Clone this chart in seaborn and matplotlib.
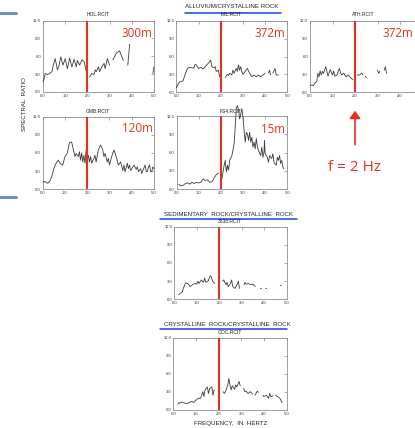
import numpy as np
import pandas as pd
import matplotlib
matplotlib.use("Agg")
import matplotlib.pyplot as plt
import seaborn as sns

nan = np.nan

# ---------------- data (frequency in Hz, spectral ratio) ----------------
hol_freq = [0.0, 0.05, 0.1, 0.2, 0.3, 0.4, 0.47, 0.55, 0.65, 0.72, 0.8, 0.9, 1.0, 1.1, 1.2, 1.3, 1.4,
            1.5, 1.55, 1.65, 1.75, 1.85, 1.95, 2.05, 2.1, 2.2, 2.3, 2.35, 2.4, 2.5, 2.55, 2.65, 2.75,
            2.8, 2.9, 3.0, 3.08, 3.15, 3.3, 3.45, 3.55, 3.62, 3.7, 3.82, 3.9, 4.4, 4.95, 5.0]
hol_ratio = [1.7, 2.2, 3.1, 2.9, 3.1, 3.4, 4.6, 5.6, 3.7, 4.4, 5.9, 4.5, 5.6, 3.9, 5.7, 4.2, 5.5,
             4.2, 5.3, 4.5, 5.4, 5.1, 3.4, nan, 2.5, 3.1, 2.9, 3.7, 3.4, 4.2, 3.4, 4.2, 4.8,
             3.9, 5.6, 4.5, nan, 5.4, 6.5, 6.9, 5.9, 5.3, nan, 4.5, 8.0, nan, 3.1, 4.2]

mil_freq = [0.0, 0.1, 0.2, 0.3, 0.4, 0.5, 0.6, 0.7, 0.8, 0.85, 0.9, 1.0, 1.1, 1.2, 1.3, 1.4, 1.5,
            1.55, 1.6, 1.7, 1.75, 1.8, 1.9, 1.95, 2.08, 2.2, 2.3, 2.35, 2.4, 2.5, 2.55, 2.6, 2.7,
            2.75, 2.8, 2.85, 2.9, 2.95, 3.0, 3.1, 3.2, 3.3, 3.4, 3.5, 3.6, 3.7, 3.8, 3.9, 4.0,
            4.08, 4.15, 4.2, 4.25, 4.3, 4.35, 4.45, 4.5, 4.6]
mil_ratio = [0.8, 1.5, 1.8, 1.9, 3.0, 4.0, 4.2, 4.1, 4.1, 4.7, 4.6, 4.0, 4.2, 3.9, 4.3, 4.7, 5.1,
             5.4, 4.3, 4.1, 4.3, 3.5, 3.7, 2.6, nan, 2.5, 3.0, 2.8, 3.2, 2.9, 3.7, 3.2, 4.0,
             3.5, 4.6, 3.7, 4.3, 3.5, 3.0, 3.5, 4.0, 3.2, 2.6, 2.9, 2.6, 2.9, 2.6, 2.9, 3.2,
             nan, 3.2, 3.7, 2.9, nan, 3.2, 4.0, 2.9, 2.9]

ath_freq = [0.0, 0.1, 0.15, 0.2, 0.3, 0.35, 0.4, 0.45, 0.5, 0.55, 0.6, 0.7, 0.8, 0.9, 1.0, 1.05,
            1.1, 1.2, 1.3, 1.4, 1.5, 1.6, 1.7, 1.8, 1.9, 2.0, 2.1, 2.2, 2.3, 2.35, 2.4, 2.45, 2.5,
            2.7, 3.0, 3.05, 3.1, 3.2, 3.3, 3.35, 3.4]
ath_ratio = [1.2, 1.2, 1.1, 1.5, 1.8, 3.2, 2.6, 3.6, 2.9, 3.5, 3.2, 4.3, 2.7, 3.8, 2.9, 3.6,
             2.7, 2.9, 4.0, 2.9, 3.2, 2.6, 2.9, 2.5, 2.1, nan, 2.9, 2.9, 3.2, 2.9, nan, 2.7, 2.5,
             nan, 3.7, 3.2, 3.5, nan, 3.7, 4.3, 3.2]

gmb_freq = [0.0, 0.1, 0.2, 0.3, 0.4, 0.5, 0.6, 0.7, 0.8, 0.9, 1.0, 1.1, 1.2, 1.3, 1.4, 1.45, 1.5,
            1.6, 1.65, 1.7, 1.75, 1.8, 1.85, 1.9, 1.95, 2.0, 2.05, 2.1, 2.15, 2.2, 2.3, 2.35, 2.4,
            2.5, 2.6, 2.7, 2.75, 2.8, 2.9, 2.95, 3.0, 3.1, 3.2, 3.3, 3.4, 3.5, 3.6, 3.65, 3.7,
            3.8, 3.85, 3.9, 3.95, 4.0, 4.1, 4.2, 4.25, 4.3, 4.4, 4.45, 4.5, 4.6, 4.65, 4.7, 4.75,
            4.8, 4.85, 4.9, 4.95, 5.0]
gmb_ratio = [1.2, 1.3, 1.0, 1.2, 2.0, 3.4, 4.3, 4.8, 4.2, 4.0, 5.4, 5.9, 7.7, 7.8, 6.2, 5.4, 5.9,
             5.4, 6.2, 4.8, 6.0, 4.5, 5.6, 4.3, 6.5, 4.8, 5.6, 4.5, 5.4, 4.3, 5.1, 5.6, 4.5,
             6.5, 7.3, 6.5, 5.4, 5.9, 4.5, 5.1, 4.0, 5.4, 6.5, 5.4, 4.0, 4.5, 3.1, 4.0, 2.9,
             4.3, 3.4, 4.0, 3.1, 3.4, 4.0, 3.3, 3.7, 2.9, 3.4, 2.6, 3.1, 4.0, 2.9, 2.9, 3.7,
             4.0, 2.9, 2.9, 3.7, 3.4]

fs4_freq = [0.1, 0.2, 0.3, 0.4, 0.5, 0.6, 0.7, 0.8, 0.9, 1.0, 1.1, 1.2, 1.3, 1.4, 1.5, 1.6, 1.7,
            1.8, 1.9, 2.0, 2.05, 2.1, 2.15, 2.2, 2.25, 2.3, 2.35, 2.4, 2.5, 2.6, 2.65, 2.7, 2.75,
            2.8, 2.85, 2.9, 2.95, 3.0, 3.05, 3.1, 3.15, 3.2, 3.25, 3.3, 3.35, 3.4, 3.45, 3.5,
            3.55, 3.6, 3.65, 3.7, 3.8, 3.85, 3.9, 3.95, 3.97, 4.0, 4.1, 4.15, 4.2, 4.3, 4.35,
            4.4, 4.5, 4.55, 4.6, 4.65, 4.7, 4.75, 4.8, 4.85]
fs4_ratio = [0.8, 0.5, 0.6, 0.9, 1.0, 0.8, 1.1, 0.9, 1.1, 1.0, 1.1, 1.7, 1.4, 1.5, 1.1, 1.2, 1.8,
             2.4, 2.6, nan, 1.7, 2.8, 3.9, 4.7, 2.8, 3.9, 3.1, 4.7, 5.5, 7.4, 10.2, 13.4, 13.7,
             12.9, 11.5, 12.3, 13.2, 11.8, 9.6, 7.7, 9.3, 9.1, 8.0, 9.3, 7.7, 8.5, 6.9, 7.7,
             6.6, 8.3, 6.9, 6.3, 5.5, 6.9, 5.2, 6.1, 8.0, 5.8, 5.2, 4.4, 5.5, 5.0, 5.8,
             4.4, 3.9, 5.2, 4.7, 5.5, 4.2, 4.7, 3.6, 3.3]

sed_freq = [0.2, 0.3, 0.35, 0.4, 0.5, 0.6, 0.7, 0.8, 0.9, 1.0, 1.05, 1.1, 1.2, 1.3, 1.35, 1.4,
            1.5, 1.6, 1.65, 1.7, 1.8, 2.0, 2.15, 2.2, 2.3, 2.35, 2.4, 2.5, 2.55, 2.6, 2.7, 2.8,
            2.85, 2.9, 3.0, 3.1, 3.15, 3.2, 3.3, 3.4, 3.5, 3.6, 3.7, 3.8, 3.85, 3.95, 4.05,
            4.1, 4.4, 4.7, 4.75]
sed_ratio = [0.8, 1.1, 1.2, 1.8, 2.7, 2.6, 2.1, 2.4, 2.6, 2.5, 3.0, 2.6, 3.2, 2.8, 3.5, 2.8,
             3.0, 3.9, 3.7, 3.0, 2.6, nan, 3.0, 3.2, 2.4, 2.8, 2.1, 2.6, 3.2, 2.1, 1.8, 2.5,
             3.0, 1.8, nan, 2.4, 2.8, 2.5, 2.6, 2.4, 2.5, 2.1, nan, 1.9, 1.9, nan, 1.8,
             1.8, nan, 2.4, 2.4]

goc_freq = [0.2, 0.25, 0.3, 0.4, 0.5, 0.6, 0.7, 0.8, 0.9, 1.0, 1.1, 1.2, 1.25, 1.3, 1.35, 1.4,
            1.5, 1.55, 1.6, 1.7, 1.75, 1.8, 2.0, 2.2, 2.25, 2.3, 2.4, 2.45, 2.5, 2.55, 2.6, 2.7,
            2.75, 2.8, 2.9, 2.95, 3.02, 3.1, 3.15, 3.2, 3.3, 3.4, 3.5, 3.55, 3.6, 3.7, 3.75,
            3.85, 3.95, 4.0, 4.1, 4.2, 4.25, 4.3, 4.4, 4.45, 4.5, 4.6, 4.7, 4.8]
goc_ratio = [0.9, 1.2, 1.1, 1.3, 1.1, 1.0, 1.2, 1.4, 1.2, 1.6, 1.9, 1.9, 2.4, 3.0, 2.2, 3.3,
             3.8, 2.7, 3.5, 3.8, 2.4, 3.3, nan, 3.0, 2.7, 3.0, 4.1, 5.2, 4.1, 3.3, 4.0, 3.4,
             4.1, 3.8, 4.7, 4.0, nan, 3.6, 3.0, 3.1, 2.7, 3.0, 2.6, nan, 2.4, 3.1, 2.9,
             nan, 2.4, 2.2, 2.4, 1.9, 2.7, 2.2, 2.3, nan, 2.4, 2.2, 1.9, 1.2]

panel_names = ["HOL.RCIT", "MIL.RCIT", "ATH.RCIT", "GMB.RCIT", "FS4.RCIT", "3838.RCIT", "GOC.RCIT"]
depth_labels = ["300m", "372m", "372m", "120m", "15m"]
x_ticks = [0.0, 1.0, 2.0, 3.0, 4.0, 5.0]
y_ticks = [0.0, 3.0, 6.0, 9.0, 12.0]
marker_freq = 2.0

# ---------------- figure ----------------
sns.set_style("white")
plt.rcParams["font.family"] = ["Liberation Sans", "DejaVu Sans"]

W, H = 415, 428
fig = plt.figure(figsize=(W / 100, H / 100), dpi=100)
fig.patch.set_facecolor("white")

def fx(px):
    return px / W

def fy(py):
    return 1 - py / H

def make_axes(left, right, top, bottom):
    return fig.add_axes([fx(left), fy(bottom), (right - left) / W, (bottom - top) / H])

def frame(f, r):
    df = pd.DataFrame({"freq": f, "ratio": r})
    df["seg"] = df["ratio"].isna().cumsum()
    return df.dropna()

CURVE = "#3c3c3c"
RED = "#e8301f"
BLUE = "#1d3fe8"
GREY = "#8e8e8e"

panels = [
    (hol_freq, hol_ratio, (43.0, 154.0, 20.7, 91.8)),
    (mil_freq, mil_ratio, (176.3, 287.3, 20.7, 92.3)),
    (ath_freq, ath_ratio, (310.0, 422.5, 20.7, 92.3)),
    (gmb_freq, gmb_ratio, (42.7, 154.0, 116.5, 189.3)),
    (fs4_freq, fs4_ratio, (176.5, 287.3, 116.0, 189.0)),
    (sed_freq, sed_ratio, (174.3, 286.7, 226.7, 299.3)),
    (goc_freq, goc_ratio, (173.3, 286.7, 337.7, 409.7)),
]

axes = []
for i, ((f, r, box), name) in enumerate(zip(panels, panel_names)):
    ax = make_axes(*box)
    df = frame(f, r)
    sns.lineplot(data=df, x="freq", y="ratio", units="seg", estimator=None, sort=False,
                 color=CURVE, lw=0.6, ax=ax, zorder=3, clip_on=False)
    ax.axvline(marker_freq, color=RED, lw=1.5, zorder=4)
    ax.set_xlim(0, 5)
    ax.set_ylim(0, 12)
    ax.set_xticks(x_ticks)
    ax.set_yticks(y_ticks)
    xl = [f"{t:.1f}" for t in x_ticks]
    if name == "ATH.RCIT":
        xl[-1] = ""  # lies beyond the page edge in the original
    ax.set_xticklabels(xl)
    ax.set_yticklabels([f"{t:.1f}" for t in y_ticks])
    ax.set_xlabel("")
    ax.set_ylabel("")
    ax.tick_params(direction="in", length=2.2, width=0.5, color=GREY, labelsize=3.0,
                   pad=1.5, top=True, right=True, labelcolor="#333333")
    for sp in ax.spines.values():
        sp.set_color(GREY)
        sp.set_linewidth(0.6)
    ax.set_facecolor("white")
    axes.append(ax)

# panel titles
title_pos = [(98.5, 15.0), (231.5, 15.0), (363.5, 15.0), (97.5, 111.6), (231.0, 111.4),
             (230.0, 221.7), (230.0, 332.7)]
for name, (x, y) in zip(panel_names, title_pos):
    fig.text(fx(x), fy(y), name, ha="center", va="center", fontsize=3.6, color="#222222")

# group headers with blue underline
headers = [("ALLUVIUM/CRYSTALLINE ROCK", 232.0, 6.3, 185.0, 281.0, 12.6),
           ("SEDIMENTARY  ROCK/CRYSTALLINE  ROCK", 229.0, 214.2, 160.0, 297.0, 218.8),
           ("CRYSTALLINE  ROCK/CRYSTALLINE  ROCK", 227.0, 325.0, 160.0, 287.0, 329.2)]
for txt, x, y, x0, x1, yl in headers:
    fig.text(fx(x), fy(y), txt, ha="center", va="center", fontsize=4.4, color="#222222")
    fig.add_artist(plt.Line2D([fx(x0), fx(x1)], [fy(yl), fy(yl)], color=BLUE, lw=1.1))

# slide decoration bars on the left
for yb in (12.6, 196.5):
    fig.add_artist(plt.Line2D([0, fx(16)], [fy(yb), fy(yb)], color="#6f90c2", lw=2.2))

# axis labels
fig.text(fx(25.0), fy(104.0), "SPECTRAL  RATIO", rotation=90, ha="center", va="center",
         fontsize=4.4, color="#222222")
fig.text(fx(230.7), fy(424.0), "FREQUENCY,  IN  HERTZ", ha="center", va="center",
         fontsize=4.4, color="#222222")

# red depth annotations
depth_pos = [(152.7, 36.7, "right"), (285.0, 37.3, "right"), (413.5, 37.3, "right"),
             (152.7, 132.3, "right"), (285.0, 133.3, "right")]
for lab, (x, y, ha) in zip(depth_labels, depth_pos):
    fig.text(fx(x), fy(y), lab, ha=ha, va="baseline", fontsize=8.4, color=RED,
             family=["Open Sans", "DejaVu Sans"])

# red arrow and f = 2 Hz
fig.add_artist(matplotlib.patches.FancyArrowPatch(
    (fx(355), fy(147.5)), (fx(355), fy(108.0)), transform=fig.transFigure,
    arrowstyle="-|>,head_length=3.0,head_width=2.2", color=RED, lw=1.2, mutation_scale=1.5))
fig.text(fx(354.3), fy(170.7), "f = 2 Hz", ha="center", va="baseline", fontsize=11,
         color=RED, family=["Open Sans", "DejaVu Sans"])

fig.savefig("out.png", dpi=100, facecolor="white")
